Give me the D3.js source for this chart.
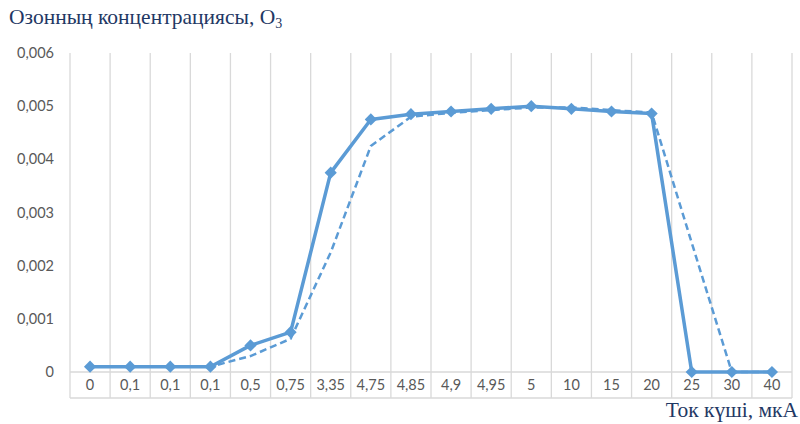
<!DOCTYPE html>
<html><head><meta charset="utf-8">
<script src="https://cdn.jsdelivr.net/npm/d3@7"></script>
<style>body{margin:0;background:#fff}svg{display:block}</style>
</head><body>
<svg id="c" width="800" height="424"></svg>
<script>
const categories = ["0","0,1","0,1","0,1","0,5","0,75","3,35","4,75","4,85","4,9","4,95","5","10","15","20","25","30","40"];
const ozone = [0.0001,0.0001,0.0001,0.0001,0.0005,0.00075,0.00375,0.00475,0.00485,0.0049,0.00495,0.005,0.00495,0.0049,0.00486,0,0,0];
const trend = [null,0.0001,0.0001,0.0001,0.0003,0.000625,0.00225,0.00425,0.0048,0.004875,0.004925,0.004975,0.004975,0.004925,0.00488,0.00243,0,0];
const yTicks = [0,0.001,0.002,0.003,0.004,0.005,0.006];
const yTickLabels = ["0","0,001","0,002","0,003","0,004","0,005","0,006"];

const svg = d3.select("#c");
const L = 70, R = 792, T = 53, B = 372, B2 = 398;
const idx = categories.map((d,i)=>i);
const x = d3.scaleBand().domain(idx).range([L,R]);
const y = d3.scaleLinear().domain([0,0.006]).range([B,T]);
const cx = i => x(i) + x.bandwidth()/2;
const grid = "#d9d9d9";

const bounds = idx.map(i=>x(i)).concat([R]);
svg.append("g").selectAll("line").data(bounds).join("line")
  .attr("x1",d=>d).attr("x2",d=>d).attr("y1",T).attr("y2",B2)
  .attr("stroke",grid).attr("stroke-width",1.3);
[B,B2].forEach(yy=>svg.append("line").attr("x1",L).attr("x2",R).attr("y1",yy).attr("y2",yy)
  .attr("stroke",grid).attr("stroke-width",1.3));

svg.append("g").selectAll("text").data(yTicks).join("text")
  .attr("x",54).attr("y",d=>y(d)).attr("dy","0.35em").attr("text-anchor","end")
  .attr("font-family","Lato, 'Open Sans', sans-serif").attr("font-size",14.5).attr("fill","#595959")
  .text((d,i)=>yTickLabels[i]);

svg.append("g").selectAll("text").data(idx).join("text")
  .attr("x",cx).attr("y",(B+B2)/2).attr("dy","0.35em").attr("text-anchor","middle")
  .attr("font-family","Lato, 'Open Sans', sans-serif").attr("font-size",14.5).attr("fill","#595959")
  .text(i=>categories[i]);

const col = "#5B9BD5";
const lineT = d3.line().defined(d=>d!=null).x((d,i)=>cx(i)).y(d=>y(d));
svg.append("path").datum(trend).attr("d",lineT).attr("fill","none")
  .attr("stroke",col).attr("stroke-width",2.5).attr("stroke-dasharray","7,4");
const line = d3.line().x((d,i)=>cx(i)).y(d=>y(d));
svg.append("path").datum(ozone).attr("d",line).attr("fill","none")
  .attr("stroke",col).attr("stroke-width",3.5).attr("stroke-linejoin","round");
const sym = d3.symbol().type(d3.symbolDiamond2).size(95);
svg.append("g").selectAll("path").data(ozone).join("path")
  .attr("d",sym).attr("transform",(d,i)=>`translate(${cx(i)},${y(d)})`).attr("fill",col);

const tt = svg.append("text").attr("x",9).attr("y",24)
  .attr("font-family","'Liberation Serif', 'Times New Roman', serif").attr("font-size",21.5).attr("fill","#1F3864");
tt.append("tspan").text("Озонның концентрациясы, О");
tt.append("tspan").attr("font-size",14).attr("dy",4).text("3");
svg.append("text").attr("x",798).attr("y",417).attr("text-anchor","end")
  .attr("font-family","'Liberation Serif', 'Times New Roman', serif").attr("font-size",21.5).attr("fill","#1F3864")
  .text("Ток күші, мкА");
</script>
</body></html>
